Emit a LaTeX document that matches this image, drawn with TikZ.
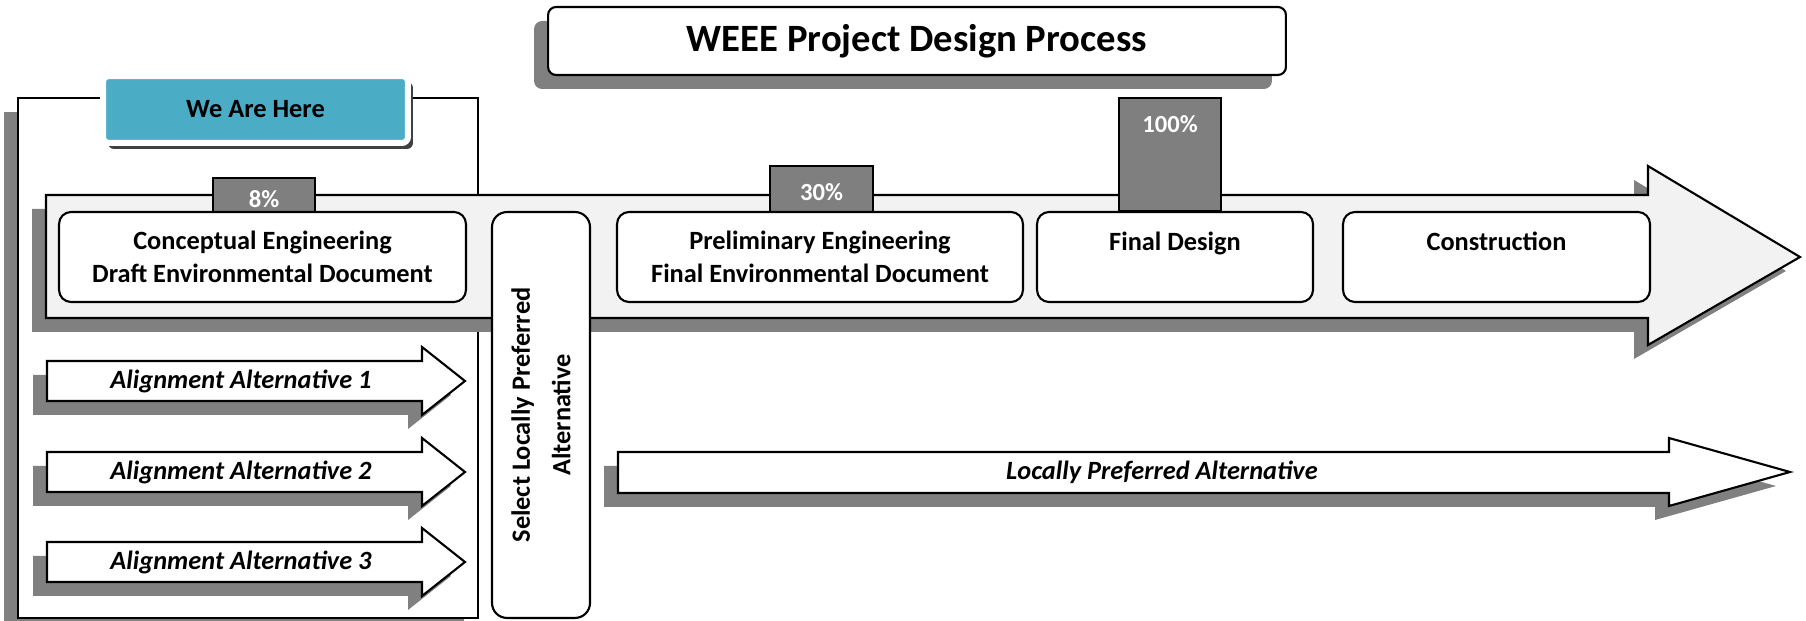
\documentclass[tikz,border=0pt]{standalone}
\usepackage{fontspec}
\setmainfont{Carlito}
\usepackage{tikz}
\usetikzlibrary{positioning}
\usetikzlibrary{shadows}
\usetikzlibrary{calc}
\definecolor{pctgray}{HTML}{7F7F7F}
\definecolor{shadegray}{HTML}{808080}
\definecolor{bandgray}{HTML}{F2F2F2}
\definecolor{herecyan}{HTML}{4BACC6}
\newcommand{\wtitle}{\fontsize{22}{26}\selectfont\bfseries}
\newcommand{\wstage}{\fontsize{15}{19}\selectfont\bfseries}
\newcommand{\wside}{\fontsize{15}{23}\selectfont\bfseries}
\newcommand{\walt}{\fontsize{15}{19}\selectfont\bfseries\itshape}
\newcommand{\wpct}{\fontsize{14}{17}\selectfont\bfseries}
\tikzset{
  boxshadow/.style = {drop shadow={shadow xshift=-0.28cm, shadow yshift=-0.28cm,
    fill=shadegray, opacity=1}},% grey shadow, lower left
  stagebox/.style = {draw=black, fill=white, line width=1.2pt,
    rounded corners=0.24cm, inner sep=0pt, minimum height=1.8cm,
    align=center, font=\wstage},% phase of the process
  pctbox/.style = {draw=black, fill=pctgray, line width=1.2pt, inner sep=0pt},
  pcttext/.style = {text=white, font=\wpct, inner sep=0pt},
  altarrow/.style = {draw=black, fill=white, line width=1.2pt, boxshadow},
  alttext/.style = {font=\walt, inner sep=0pt}
}

\begin{document}
\begin{tikzpicture}[x=0.02cm, y=-0.02cm]
\useasboundingbox (0,0) rectangle (1806,621);

\node [draw=black, fill=white, line width=1.2pt, rounded corners=0.16cm, boxshadow,
  minimum width=14.76cm, minimum height=1.36cm, font=\wtitle] (title) at (917,41)
  {WEEE Project Design Process};

% bracket round the alternatives
\node [draw=black, fill=white, line width=1.2pt, boxshadow, inner sep=0pt,
  minimum width=9.2cm, minimum height=10.4cm] (frame) at (248,358) {};
\node [draw=white, fill=herecyan, line width=0.12cm, rounded corners=0.12cm,
  minimum width=6.1cm, minimum height=1.34cm, font=\wstage,
  drop shadow={shadow xshift=0.1cm, shadow yshift=-0.12cm, fill=black!75, opacity=1}]
  (here) at (255.5,109.5) {We Are Here};

% main band
\draw [fill=bandgray, line width=1.2pt, boxshadow]
  (46,195) -- (1648,195) -- (1648,166) -- (1800,257) -- (1648,345)
  -- (1648,318) -- (46,318) -- cycle;

\node [pctbox, minimum width=2.04cm, minimum height=0.68cm] (p8) at (264,195) {};
\node [pctbox, minimum width=2.06cm, minimum height=0.92cm] (p30) at (821.5,189) {};
\node [pctbox, minimum width=2.04cm, minimum height=2.26cm] (p100) at (1170,154.5) {};
\node [pcttext] at ([yshift=-0.44cm]p8.north) {8\%};
\node [pcttext] at ([yshift=-0.54cm]p30.north) {30\%};
\node [pcttext] at ([yshift=-0.54cm]p100.north) {100\%};

\node [stagebox, minimum width=8.14cm] (concept) at (262.5,257)
  {Conceptual Engineering\\Draft Environmental Document};
\node [stagebox, minimum width=8.12cm] (prelim) at (820,257)
  {Preliminary Engineering\\Final Environmental Document};
\node [stagebox, minimum width=5.52cm] (final) at (1175,257) {Final Design\\[-7pt]\strut};
\node [stagebox, minimum width=6.14cm] (constr) at (1496.5,257) {Construction\\[-7pt]\strut};
\node [stagebox, rotate=90, rounded corners=0.3cm, minimum width=8.12cm,
  minimum height=1.96cm, font=\wside] (select) at (541,415)
  {Select Locally Preferred\\Alternative};

\foreach \yc/\num in {381/1, 472/2, 562/3} {
  \draw [altarrow] (47,\yc-20) -- (422,\yc-20) -- (422,\yc-34) -- (465,\yc)
    -- (422,\yc+34) -- (422,\yc+20) -- (47,\yc+20) -- cycle;
  \node [alttext] (alt\num) at (241,\yc) {Alignment Alternative \num};
}

\draw [altarrow] (618,452) -- (1669,452) -- (1669,438) -- (1790,472)
  -- (1669,506) -- (1669,493) -- (618,493) -- cycle;
\node [alttext] (lpa) at (1162,472) {Locally Preferred Alternative};
\end{tikzpicture}
\end{document}
